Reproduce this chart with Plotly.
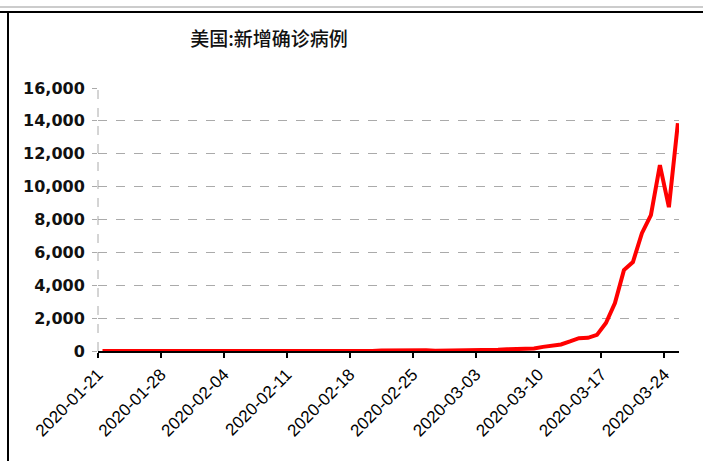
import datetime as dt
import plotly.graph_objects as go

# ---- data ----
start_date = "2020-01-21"
new_cases = [
    # Jan 21 - Jan 31
    1, 0, 0, 1, 0, 30, 0, 0, 0, 1, 1,
    # Feb 1 - Feb 29
    1, 40, 3, 0, 1, 0, 0, 0, 1, 0, 1, 1, 1, 0, 0, 0, 0, 0, 0, 0,
    30, 40, 10, 10, 30, 40, 20, 20, 20,
    # Mar 1 - Mar 25
    30, 40, 40, 50, 70, 100, 110, 120, 150, 250, 330, 400, 580, 780, 800,
    980, 1700, 2920, 4920, 5410, 7170, 8270, 11310, 8750, 13860,
]
tick_labels = ["2020-01-21", "2020-01-28", "2020-02-04", "2020-02-11", "2020-02-18",
               "2020-02-25", "2020-03-03", "2020-03-10", "2020-03-17", "2020-03-24"]
y_ticks = [0, 2000, 4000, 6000, 8000, 10000, 12000, 14000, 16000]
title_text = "美国:新增确诊病例"

# category centres (half a day after each date boundary)
d0 = dt.datetime.strptime(start_date, "%Y-%m-%d")
x_vals = [d0 + dt.timedelta(days=i, hours=12) for i in range(len(new_cases))]

W, H = 703, 461
ml, mr, mt, mb = 98, 24, 88, 110
pw, ph = W - ml - mr, H - mt - mb

def px_x(p):
    return (p - ml) / pw

def px_y(p):
    return (H - mb - p) / ph

fig = go.Figure()
fig.add_trace(go.Scatter(
    x=x_vals, y=new_cases, mode="lines",
    line=dict(color="#ff0000", width=4),
    showlegend=False, hoverinfo="x+y",
))

fig.update_layout(
    width=W, height=H,
    margin=dict(l=ml, r=mr, t=mt, b=mb),
    paper_bgcolor="white", plot_bgcolor="white",
    title=dict(text=title_text, x=(269) / W, xanchor="center",
               y=1 - 39 / H, yanchor="middle",
               font=dict(family="Noto Sans CJK SC", size=19, color="#111", weight=500)),
    xaxis=dict(
        type="date",
        range=[d0, d0 + dt.timedelta(days=64, hours=15)],
        tickmode="array",
        tickvals=[dt.datetime.strptime(t, "%Y-%m-%d") for t in tick_labels],
        ticktext=tick_labels,
        tickangle=-45,
        ticks="outside", ticklen=5, tickwidth=2, tickcolor="#000",
        showline=True, linecolor="#000", linewidth=2,
        showgrid=False, zeroline=False,
        tickfont=dict(family="Liberation Sans", size=17, color="#000"),
    ),
    yaxis=dict(
        range=[0, 16000],
        tickmode="array", tickvals=y_ticks,
        ticktext=[f"{v:,}" for v in y_ticks],
        ticks="outside", ticklen=5, tickcolor="#aaaaaa",
        showgrid=True, gridcolor="#aaaaaa", griddash="dash", gridwidth=1,
        zeroline=False, showline=False,
        tickfont=dict(family="DejaVu Sans", size=16, color="#111", weight="bold"),
        ticklabelstandoff=4,
    ),
    shapes=[
        # dashed vertical axis line
        dict(type="line", xref="paper", yref="paper", x0=0, x1=0, y0=0, y1=1,
             line=dict(color="#aaaaaa", width=1, dash="dash"), layer="below"),
        # outer frame lines
        dict(type="line", xref="paper", yref="paper", x0=px_x(0), x1=px_x(W),
             y0=px_y(7), y1=px_y(7), line=dict(color="#999999", width=1)),
        dict(type="line", xref="paper", yref="paper", x0=px_x(0), x1=px_x(W),
             y0=px_y(12), y1=px_y(12), line=dict(color="#000", width=2)),
        dict(type="line", xref="paper", yref="paper", x0=px_x(8), x1=px_x(8),
             y0=px_y(12), y1=px_y(H), line=dict(color="#000", width=2)),
    ],
)

fig.write_html("out.html")
